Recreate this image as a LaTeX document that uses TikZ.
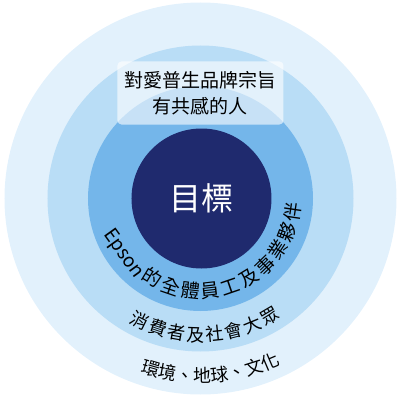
\documentclass[tikz,border=0pt]{standalone}
\usepackage{fontspec}
\setmainfont{Noto Sans CJK TC}
\usetikzlibrary{decorations.text}
\definecolor{RingOuter}{HTML}{E2F1FC}
\definecolor{RingMiddle}{HTML}{B9DDF6}
\definecolor{RingInner}{HTML}{74B6EA}
\definecolor{GoalBlue}{HTML}{1F2A6E}

\begin{document}
\begin{tikzpicture}[x=1pt,y=1pt]

      \tikzstyle{Ring} = [
      circle,
      inner sep=0pt,
      draw=none
      ]

      \tikzstyle{RingText} = [
      decorate,
      decoration={text along path, text align={fit to path}}
      ]

      \useasboundingbox (-200.5,-203.5) rectangle (199.5,198.5);

      \node (Environment) [Ring, fill=RingOuter, minimum size=392pt] at (0,0) {};
      \node (Society) [Ring, fill=RingMiddle, minimum size=306pt] at (0,0) {};
      \node (Partners) [Ring, fill=RingInner, minimum size=225pt] at (0,0) {};
      \node (Goal) [Ring, fill=GoalBlue, minimum size=140pt, text=white,
        font=\fontsize{32}{32}\selectfont] at (1,0) {目標};

      \node (BrandPeople) [rectangle, rounded corners=4pt, fill=white, fill opacity=0.6,
        text opacity=1, minimum width=166pt, minimum height=63pt, align=center,
        font=\fontsize{19}{26}\selectfont] at (0,105.5) {
        對愛普生品牌宗旨\\
        有共感的人
      };

      \path [RingText, decoration={text={|\fontsize{19}{19}\selectfont|{Epson}的全體員工及事業夥伴}}]
      (200:100pt) arc [start angle=200, end angle=357, radius=100pt];
      \path [RingText, decoration={text={|\fontsize{18}{18}\selectfont|消費者及社會大眾}}]
      (240:143pt) arc [start angle=240, end angle=304, radius=143pt];
      \path [RingText, decoration={text={|\fontsize{18}{18}\selectfont|環境、地球、文化}}]
      (251:184pt) arc [start angle=251, end angle=295.5, radius=184pt];

    \end{tikzpicture}
\end{document}
